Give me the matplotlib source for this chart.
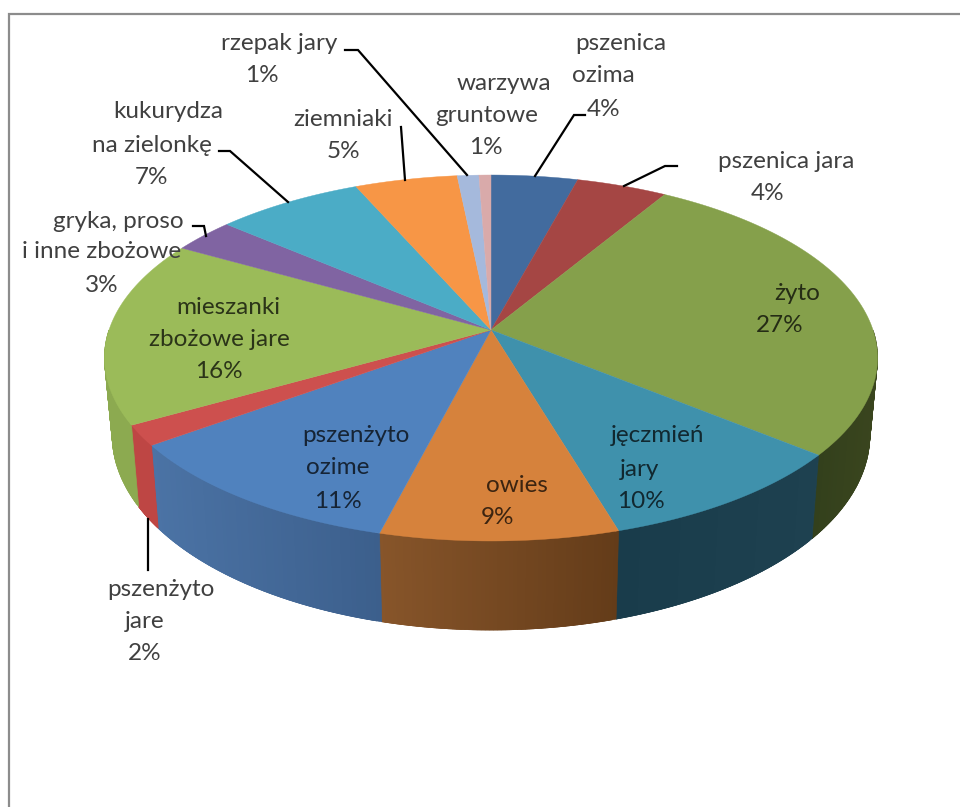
import numpy as np
import matplotlib
matplotlib.use("Agg")
import matplotlib.pyplot as plt

plt.rcParams['font.family'] = ['Lato', 'DejaVu Sans']

## DATA ##
names = ["pszenica ozima", "pszenica jara", "żyto", "jęczmień jary", "owies",
         "pszenżyto ozime", "pszenżyto jare", "mieszanki zbożowe jare",
         "gryka, proso i inne zbożowe", "kukurydza na zielonkę", "ziemniaki",
         "rzepak jary", "warzywa gruntowe"]
values = [4.2, 4.4, 27.3, 9.5, 8.6, 11.0, 1.8, 16.4, 3.05, 7.15, 4.97, 1.05, 0.58]
top_colors = ["#426b9e", "#a54644", "#85a04b", "#3f91ac", "#d6823c", "#5082be", "#cd504e",
              "#9bbb59", "#8064a2", "#4bacc6", "#f79646", "#a5b9dc", "#d9aaaa"]
wall_left = ["#426b9e", "#a54644", "#33401c", "#193c4b", "#87552a", "#4b73a5", "#be4644",
             "#8caa50", "#8064a2", "#4bacc6", "#f79646", "#a5b9dc", "#d9aaaa"]
wall_right = ["#426b9e", "#a54644", "#3a451e", "#1e4150", "#643c19", "#3c5f8c", "#be4644",
              "#8caa50", "#8064a2", "#4bacc6", "#f79646", "#a5b9dc", "#d9aaaa"]

label_lines = [["pszenica", "ozima"], ["pszenica jara"], ["żyto"], ["jęczmień", "jary"], ["owies"],
               ["pszenżyto", "ozime"], ["pszenżyto", "jare"], ["mieszanki", "zbożowe jare"],
               ["gryka, proso", "i inne zbożowe"], ["kukurydza", "na zielonkę"], ["ziemniaki"],
               ["rzepak jary"], ["warzywa", "gruntowe"]]
label_x = [[621, 603, 604], [786, 768], [797, 780], [658, 640, 641], [517, 498],
           [356, 338, 338], [161, 145, 145], [228, 219, 219],
           [118, 102, 102], [168, 152, 152], [343, 343], [279, 262], [504, 487, 486]]
label_y = [[44, 76, 109], [161, 193], [293, 326], [436, 469, 501], [486, 518],
           [436, 468, 501], [589, 621, 653], [308, 340, 372],
           [221, 252, 285], [111, 145, 177], [119, 151], [44, 75], [83, 116, 148]]
inside = [False, False, True, True, True, True, False, True, False, False, False, False, False]

leaders = [[(585, 115), (574, 115), (535, 176)], [(677, 166), (665, 166), (624, 186)],
           [(148, 519), (148, 570)], [(193, 226), (204, 226), (206, 236)],
           [(219, 151), (230, 151), (288, 202)], [(401, 127), (405, 180)],
           [(345, 50), (358, 50), (467, 175)]]

## PIE GEOMETRY ##
cx, cy = 491, 330
rx, ry, k, depth = 382, 178.7, 0.153, 75.4


def project(theta, z=0.0):
    u, v = np.sin(theta), np.cos(theta)
    w = 1 + k*v
    # the lower rim is a little narrower than the top one
    return cx + rx*u/w*(1 - 0.02*z), cy - (ry*v - depth*z)/w


def hex2rgb(c):
    return np.array(matplotlib.colors.to_rgb(c))


fig = plt.figure(figsize=(9.6, 8.07), dpi=100)
ax = fig.add_axes([0, 0, 1, 1])
ax.set_xlim(0, 960)
ax.set_ylim(807, 0)
ax.axis('off')

ax.plot([9, 9, 960], [807, 14, 14], color='#8c8c8c', lw=1.6, solid_joinstyle='miter')

edges = np.cumsum([0] + values)/sum(values)*2*np.pi

# side wall, overlapping strips give the gradient without seams
for i in range(len(values)):
    a, b = edges[i], edges[i+1]
    a2, b2 = max(a, np.pi/2), min(b, 3*np.pi/2)
    if b2 <= a2:
        continue
    th = np.linspace(a2, b2, 60)
    xs, ys = project(th)
    xb, yb = project(th, 1.0)
    x0, x1 = xs.min(), xs.max()
    cl, cr = hex2rgb(wall_left[i]), hex2rgb(wall_right[i])
    for j in range(len(th)-1):
        j2 = min(j+2, len(th)-1)
        t = ((xs[j]+xs[j+1])/2 - x0)/(x1-x0)
        c = cl + (cr-cl)*t
        ax.fill([xs[j], xs[j2], xb[j2], xb[j]], [ys[j], ys[j2], yb[j2], yb[j]],
                color=c, lw=0.5, zorder=2)

# top of the pie
for i in range(len(values)):
    th = np.linspace(edges[i], edges[i+1], 80)
    xs, ys = project(th)
    ax.fill(np.r_[cx, xs], np.r_[cy, ys], color=top_colors[i], lw=0.3, zorder=3)

for pts in leaders:
    ax.plot([p[0] for p in pts], [p[1] for p in pts], color='black', lw=1.6, zorder=4,
            solid_joinstyle='miter')

for i in range(len(values)):
    lines = label_lines[i] + ["%d%%" % round(values[i])]
    for line, x, y in zip(lines, label_x[i], label_y[i]):
        if inside[i]:
            ax.text(x, y, line, ha='center', va='center', fontsize=17.5, color='black', alpha=0.72, zorder=5)
        else:
            ax.text(x, y, line, ha='center', va='center', fontsize=17.5, color='#404040', zorder=5)

plt.savefig('out.png', dpi=100)
